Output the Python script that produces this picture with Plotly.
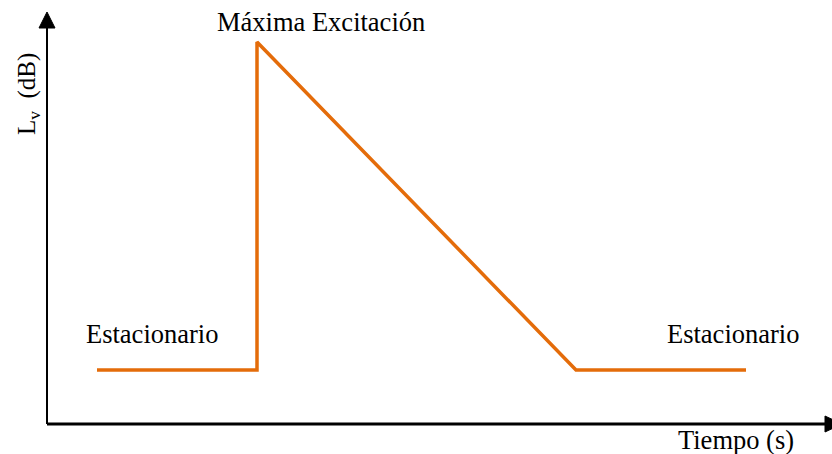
import plotly.graph_objects as go

# Data (arbitrary units: time vs level)
time = [50, 210, 210, 529, 699]
level = [54, 54, 382, 54, 54]

labels_text = ["Máxima Excitación", "Estacionario", "Estacionario"]
labels_x = [274, 105, 686]
labels_y = [402, 90, 90]

x_title = "Tiempo (s)"
y_title = "L<sub>v</sub>  (dB)"

ORANGE = "#E46C0A"
FONT = "Liberation Serif, Times New Roman, serif"
FS = 26.5

fig = go.Figure()
fig.add_trace(go.Scatter(x=time, y=level, mode="lines",
                         line=dict(color=ORANGE, width=3.5), hoverinfo="skip",
                         showlegend=False))

annotations = []
for t, x, y in zip(labels_text, labels_x, labels_y):
    annotations.append(dict(x=x, y=y, xref="x", yref="y", text=t, showarrow=False,
                            font=dict(family=FONT, size=FS, color="black")))

annotations.append(dict(x=689, y=-16, xref="x", yref="y", text=x_title, showarrow=False,
                        font=dict(family=FONT, size=FS, color="black")))
annotations.append(dict(x=-19, y=330, xref="x", yref="y", text=y_title, showarrow=False,
                        textangle=-90, font=dict(family=FONT, size=25, color="black")))

# axis lines with arrowheads (decoration)
shapes = [
    dict(type="line", xref="x", yref="y", x0=0, y0=0, x1=782, y1=0,
         line=dict(color="black", width=3)),
    dict(type="path", xref="x", yref="y", path="M 778,8 L 795,0 L 778,-8 Z",
         fillcolor="black", line=dict(color="black", width=1)),
    dict(type="line", xref="x", yref="y", x0=0, y0=0, x1=0, y1=400,
         line=dict(color="black", width=2)),
    dict(type="path", xref="x", yref="y", path="M -8,396 L 0,412 L 8,396 Z",
         fillcolor="black", line=dict(color="black", width=1)),
]

fig.update_layout(
    width=832, height=454,
    margin=dict(l=0, r=0, t=0, b=0),
    paper_bgcolor="white", plot_bgcolor="white",
    xaxis=dict(range=[-47, 785], visible=False),
    yaxis=dict(range=[-30, 424], visible=False),
    annotations=annotations,
    shapes=shapes,
)

fig.write_html("out.html", config={"displayModeBar": False},
               post_script="document.body.style.margin='0';document.body.style.overflow='hidden';")
